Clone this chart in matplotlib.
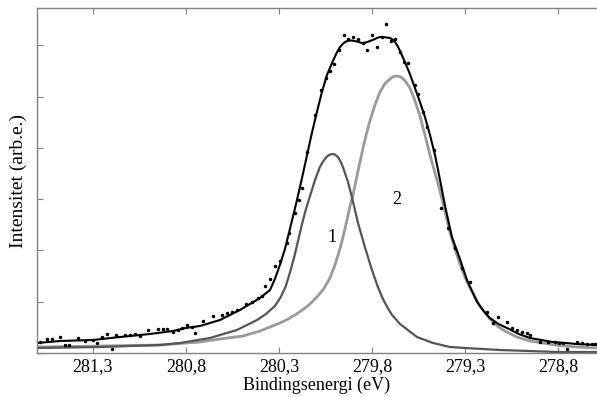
import matplotlib
matplotlib.use("Agg")
import matplotlib.pyplot as plt
from matplotlib.ticker import FixedLocator, FuncFormatter, MultipleLocator

plt.rcParams["font.family"] = ["Liberation Serif", "DejaVu Serif"]

# measured points (binding energy in eV, intensity in arb. units)
pts_e = [281.585, 281.547, 281.520, 281.477, 281.451, 281.429, 281.381, 281.343,
         281.300, 281.278, 281.252, 281.225, 281.198, 281.176, 281.128, 281.101,
         281.074, 281.047, 281.004, 280.951, 280.924, 280.902, 280.870, 280.843,
         280.822, 280.795, 280.768, 280.752, 280.709, 280.655, 280.606, 280.580,
         280.553, 280.526, 280.477, 280.445, 280.413, 280.391, 280.375, 280.348,
         280.322, 280.295, 280.257, 280.246, 280.214, 280.192, 280.176, 280.149,
         280.106, 280.074, 280.047, 280.026, 280.004, 279.977, 279.951, 279.929,
         279.902, 279.875, 279.848, 279.827, 279.800, 279.773, 279.746, 279.725,
         279.698, 279.676, 279.649, 279.628, 279.606, 279.569, 279.553, 279.526,
         279.504, 279.467, 279.429, 279.391, 279.354, 279.316, 279.273, 279.182,
         279.150, 279.123, 279.074, 279.047, 279.020, 278.994, 278.967, 278.951,
         278.897, 278.854, 278.816, 278.795, 278.773, 278.752, 278.698, 278.671,
         278.644, 278.617, 278.601]
pts_i = [11, 14, 14, 16, 8, 8, 15, 12,
         13, 10, 16, 19, 4, 18, 18, 18,
         19, 17, 23, 24, 24, 24, 21, 23,
         25, 28, 26, 20, 32, 37, 38, 40,
         41, 43, 49, 51, 55, 57, 67, 74,
         87, 92, 110, 120, 140, 153, 165, 201,
         238, 263, 275, 282, 289, 303, 318, 314,
         316, 314, 310, 303, 318, 306, 316, 329,
         312, 314, 301, 291, 290, 268, 259, 241,
         226, 203, 145, 125, 105, 85, 71, 41,
         30, 36, 31, 25, 23, 21, 20, 18,
         11, 11, 11, 10, 10, 4, 11, 10,
         9, 9, 9]

# fitted envelope
fit_e = [281.601, 281.477, 281.300, 281.155, 280.994, 280.870, 280.800, 280.725,
         280.617, 280.510, 280.402, 280.348, 280.322, 280.295, 280.268, 280.241,
         280.203, 280.176, 280.149, 280.123, 280.096, 280.069, 280.042, 280.010,
         279.990, 279.972, 279.952, 279.934, 279.912, 279.891, 279.872, 279.854,
         279.832, 279.811, 279.790, 279.773, 279.757, 279.741, 279.722, 279.703,
         279.690, 279.676, 279.662, 279.649, 279.623, 279.596, 279.569, 279.542,
         279.515, 279.488, 279.461, 279.434, 279.408, 279.370, 279.327, 279.289,
         279.235, 279.200, 279.166, 279.120, 279.074, 279.010, 278.951, 278.890,
         278.827, 278.760, 278.698, 278.590]
fit_i = [10, 12, 13, 16, 19, 22, 25, 27,
         33, 43, 55, 63, 74, 88, 104, 124,
         153, 175, 198, 220, 241, 261, 278, 292,
         300, 306, 310, 312, 312.5, 312, 311, 310,
         310.5, 312, 313.5, 315, 316, 316, 315.5, 315,
         313.5, 311, 307, 302, 291, 279, 265, 251,
         236, 218, 198, 173, 148, 116, 94, 73,
         51, 42, 35, 29, 25, 19, 15, 13,
         11, 10, 9, 8]

# component 1
c1_e = [281.601, 281.262, 280.940, 280.832, 280.671, 280.526, 280.418, 280.370,
        280.322, 280.290, 280.263, 280.240, 280.214, 280.195, 280.176, 280.155,
        280.133, 280.106, 280.080, 280.063, 280.047, 280.031, 280.015, 279.999,
        279.983, 279.970, 279.956, 279.929, 279.908, 279.875, 279.838, 279.800,
        279.770, 279.741, 279.715, 279.692, 279.649, 279.600, 279.558, 279.472,
        279.381, 279.300, 279.112, 278.800, 278.590]
c1_i = [5, 6, 8, 10, 15, 23, 33, 39,
        47, 56, 67, 81, 99, 114, 129, 144,
        157, 173, 186, 191.5, 195.5, 198, 199, 198.5,
        196, 192, 186, 171, 156, 130, 106, 83,
        67, 54, 45, 38, 29, 22, 16, 10,
        6, 5, 3, 1, 1]

# component 2
c2_e = [281.601, 281.262, 280.940, 280.725, 280.617, 280.494, 280.402, 280.295,
        280.250, 280.210, 280.170, 280.133, 280.096, 280.060, 280.026, 279.999,
        279.972, 279.945, 279.918, 279.902, 279.875, 279.848, 279.830, 279.811,
        279.784, 279.757, 279.730, 279.703, 279.685, 279.666, 279.645, 279.623,
        279.596, 279.570, 279.542, 279.515, 279.488, 279.461, 279.434, 279.408,
        279.381, 279.354, 279.327, 279.300, 279.273, 279.219, 279.166, 279.120,
        279.085, 279.020, 278.951, 278.880, 278.816, 278.698, 278.590]
c2_i = [6, 7, 8, 11, 14, 17, 22, 30,
        34, 38.5, 43.5, 49, 56, 64, 75, 88,
        104, 124, 147, 158, 182, 205, 219, 232,
        248, 261, 269.5, 274, 276.5, 277, 276, 272.5,
        265, 253, 237, 218, 198, 180, 162, 142,
        121, 104, 89, 76, 65, 47, 34, 26,
        22, 16, 12, 10, 8, 6, 5]

xticks = [281.3, 280.8, 280.3, 279.8, 279.3, 278.8]

fig = plt.figure(figsize=(5.97, 3.97), dpi=100)
ax = fig.add_axes([37/597, 44/397, 560/597, 345/397])

ax.plot(c2_e, c2_i, color="#9a9a9a", lw=2.0)
ax.plot(c1_e, c1_i, color="#555555", lw=1.6)
ax.plot(fit_e, fit_i, color="black", lw=1.5)
ax.plot(pts_e, pts_i, ls="none", marker="o", ms=1.5, color="black")

ax.text(280.015, 115, "1", fontsize=13, ha="center", va="center")
ax.text(279.666, 154, "2", fontsize=13, ha="center", va="center")

ax.set_xlim(281.601, 278.590)
ax.set_ylim(0, 345)
ax.xaxis.set_major_locator(FixedLocator(xticks))
ax.xaxis.set_major_formatter(FuncFormatter(lambda v, p: f"{v:.1f}".replace(".", ",")))
ax.yaxis.set_major_locator(MultipleLocator(51.3))
ax.tick_params(direction="in", length=4, width=0.8, color="0.5",
               labelsize=13, top=True, pad=4)
ax.tick_params(axis="y", right=False, labelleft=False)
for s in ["left", "bottom", "top"]:
    ax.spines[s].set_color("0.5")
    ax.spines[s].set_linewidth(1.0)
ax.spines["right"].set_visible(False)

ax.set_xlabel("Bindingsenergi (eV)", fontsize=13, labelpad=1)
ax.set_ylabel("Intensitet (arb.e.)", fontsize=14, labelpad=7)

fig.savefig("out.png", dpi=100)
